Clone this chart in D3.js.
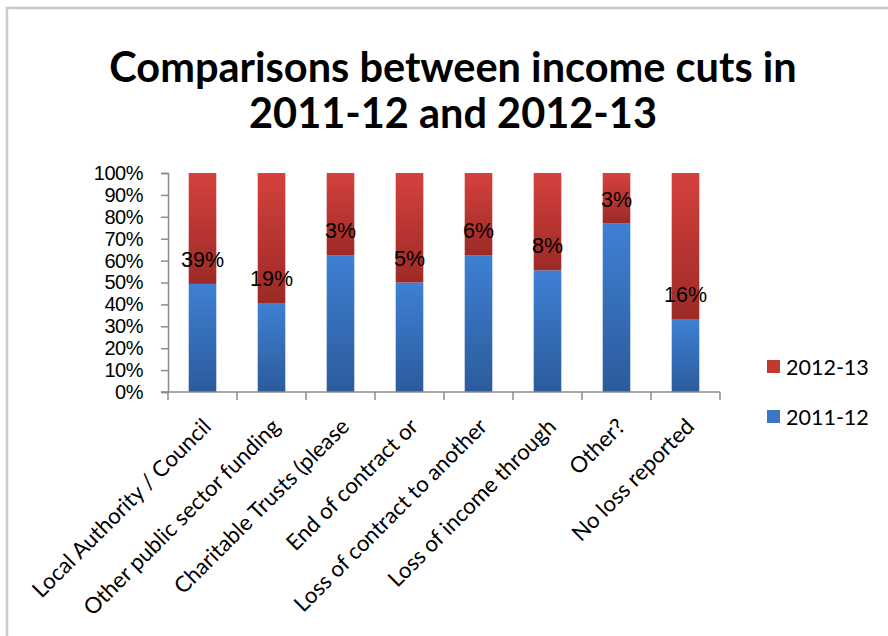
<!DOCTYPE html>
<html>
<head>
<meta charset="utf-8">
<script src="https://cdn.jsdelivr.net/npm/d3@7"></script>
<style>
  html, body { margin: 0; padding: 0; background: #fff; }
  svg { display: block; }
</style>
</head>
<body>
<svg id="chart" width="888" height="636"></svg>
<script>
// ---- data ----
const categories = [
  "Local Authority / Council",
  "Other public sector funding",
  "Charitable Trusts (please",
  "End of contract or",
  "Loss of contract to another",
  "Loss of income through",
  "Other?",
  "No loss reported"
];
const series2011 = [38, 13, 5, 5, 10, 10, 10, 8];
const series2012 = [39, 19, 3, 5, 6, 8, 3, 16];
const seriesNames = ["2011-12", "2012-13"];
const yTicks = [0, 0.1, 0.2, 0.3, 0.4, 0.5, 0.6, 0.7, 0.8, 0.9, 1.0];
const titleLines = ["Comparisons between income cuts in", "2011-12 and 2012-13"];

// ---- layout ----
const W = 888, H = 636;
const plot = { left: 168, right: 720, top: 173, bottom: 392 };
const svg = d3.select("#chart");
const axisColor = "#8c8c8c";

// border
svg.append("rect")
  .attr("x", 7).attr("y", 8).attr("width", W + 20).attr("height", H + 20)
  .attr("fill", "none").attr("stroke", "#c9c9c9").attr("stroke-width", 2.5);

// gradients
const defs = svg.append("defs");
const grads = [
  { id: "gBlue", top: "#3e80d4", bottom: "#2c5b9b" },
  { id: "gRed", top: "#d5413d", bottom: "#9c2a26" }
];
grads.forEach(g => {
  const lg = defs.append("linearGradient").attr("id", g.id)
    .attr("x1", 0).attr("y1", 0).attr("x2", 0).attr("y2", 1);
  lg.append("stop").attr("offset", "0%").attr("stop-color", g.top);
  lg.append("stop").attr("offset", "100%").attr("stop-color", g.bottom);
});
const fills = ["url(#gBlue)", "url(#gRed)"];
const legendColors = ["#3a76c4", "#c0392f"];

// title
svg.append("g").selectAll("text").data(titleLines).join("text")
  .attr("x", 453).attr("y", (d, i) => 82 + i * 46)
  .attr("text-anchor", "middle")
  .attr("font-family", "Lato, 'Open Sans', sans-serif")
  .attr("font-weight", "bold")
  .attr("font-size", 41.5)
  .attr("fill", "#000")
  .text(d => d);

// scales
const x = d3.scaleBand().domain(categories)
  .range([plot.left, plot.right]).paddingInner(0.6).paddingOuter(0.3);
const y = d3.scaleLinear().domain([0, 1]).range([plot.bottom, plot.top]);

// stack
const rows = categories.map((c, i) => ({ cat: c, s2011: series2011[i], s2012: series2012[i] }));
const stack = d3.stack().keys(["s2011", "s2012"]).offset(d3.stackOffsetExpand);
const layers = stack(rows);

svg.append("g").selectAll("g").data(layers).join("g")
  .attr("fill", (d, i) => fills[i])
  .selectAll("rect").data(d => d).join("rect")
  .attr("x", d => x(d.data.cat))
  .attr("width", x.bandwidth())
  .attr("y", d => y(d[1]))
  .attr("height", d => y(d[0]) - y(d[1]));

// y axis
const yAxis = svg.append("g")
  .attr("transform", `translate(${plot.left},0)`)
  .call(d3.axisLeft(y).tickValues(yTicks).tickSize(7).tickPadding(18)
    .tickFormat(d3.format(".0%")));
yAxis.select(".domain").attr("stroke", axisColor).attr("stroke-width", 1.5);
yAxis.selectAll(".tick line").attr("stroke", axisColor).attr("stroke-width", 1.5);
yAxis.selectAll(".tick text")
  .attr("font-family", "'Liberation Sans', Arial, sans-serif")
  .attr("font-size", 20).attr("letter-spacing", -0.5).attr("fill", "#000");

// x axis (ticks at band boundaries)
const step = x.step();
const boundaries = d3.range(categories.length + 1).map(i => plot.left + i * step);
const xAxisG = svg.append("g");
xAxisG.append("line")
  .attr("x1", plot.left - 7).attr("x2", plot.right)
  .attr("y1", plot.bottom).attr("y2", plot.bottom)
  .attr("stroke", axisColor).attr("stroke-width", 1.5);
xAxisG.selectAll("line.t").data(boundaries).join("line").attr("class", "t")
  .attr("x1", d => d).attr("x2", d => d)
  .attr("y1", plot.bottom).attr("y2", plot.bottom + 8)
  .attr("stroke", axisColor).attr("stroke-width", 1.5);

// category labels
svg.append("g").selectAll("text").data(categories).join("text")
  .attr("transform", d => `translate(${x(d) + x.bandwidth() / 2 + 10},${plot.bottom + 36}) rotate(-45)`)
  .attr("text-anchor", "end")
  .attr("font-family", "Lato, 'Open Sans', sans-serif")
  .attr("font-size", 22.2)
  .attr("fill", "#000")
  .text(d => d);

// data labels (2012-13 values), just above the boundary
svg.append("g").selectAll("text").data(layers[1]).join("text")
  .attr("x", d => x(d.data.cat) + x.bandwidth() / 2)
  .attr("y", d => y(d[0]) - 17)
  .attr("text-anchor", "middle")
  .attr("font-family", "'Liberation Sans', Arial, sans-serif")
  .attr("font-size", 21.5)
  .attr("fill", "#000")
  .text(d => d.data.s2012 + "%");

// legend (2012-13 on top)
const legendItems = [
  { name: seriesNames[1], color: legendColors[1] },
  { name: seriesNames[0], color: legendColors[0] }
];
const lg = svg.append("g").selectAll("g").data(legendItems).join("g")
  .attr("transform", (d, i) => `translate(767,${360 + i * 50})`);
lg.append("rect").attr("width", 13).attr("height", 13).attr("fill", d => d.color);
lg.append("text").attr("x", 19).attr("y", 14.5)
  .attr("font-family", "Lato, 'Open Sans', sans-serif")
  .attr("font-size", 21.5).attr("fill", "#000")
  .text(d => d.name);
</script>
</body>
</html>
